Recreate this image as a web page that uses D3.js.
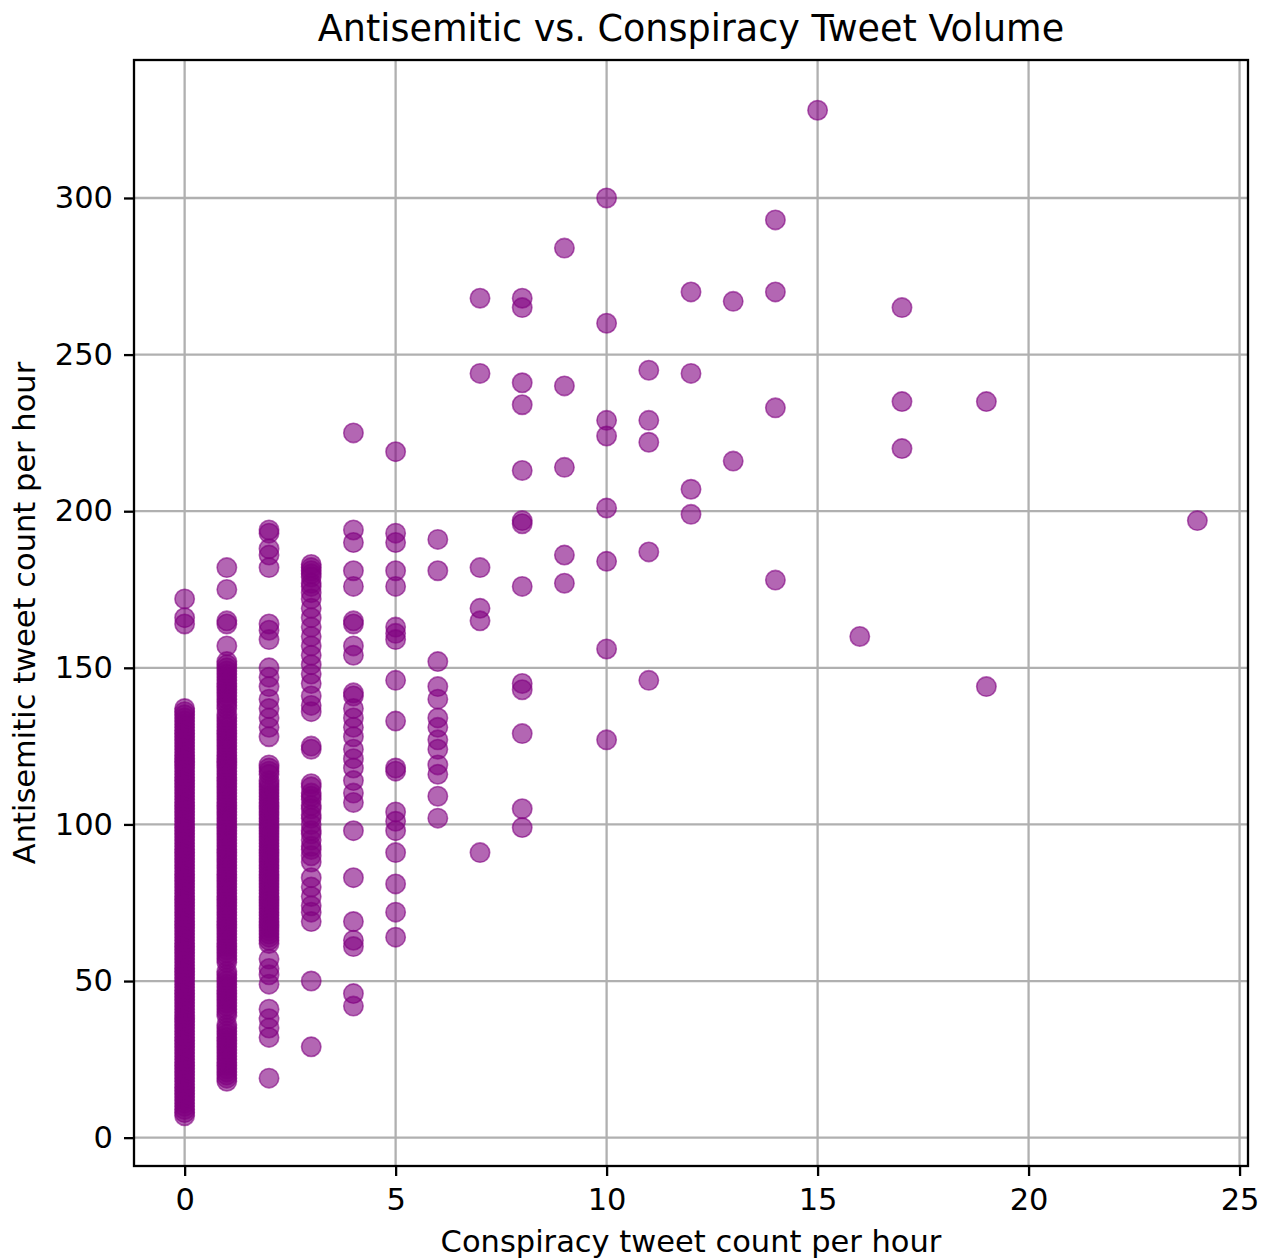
<!DOCTYPE html>
<html>
<head>
<meta charset="utf-8">
<script src="https://cdn.jsdelivr.net/npm/d3@7"></script>
<style>
  body { margin: 0; background: #fff; }
  text { font-family: "DejaVu Sans", sans-serif; fill: #000; }
</style>
</head>
<body>
<svg id="chart" width="1264" height="1258"></svg>
<script>
// Conspiracy tweets per hour (x) and the antisemitic tweet counts observed in those hours (y)
const conspiracyCounts = [0, 1, 2, 3, 4, 5, 6, 7, 8, 9, 10, 11, 12, 13, 14, 15, 16, 17, 19, 24];

const antisemiticCounts = [
  // 0 conspiracy tweets
  [172, 166, 164, 137, 136, 135, 134, 133, 132, 131, 130, 129, 128, 127, 126, 125, 124, 123, 122, 121,
   120, 119, 118, 117, 116, 115, 114, 113, 112, 111, 110, 109, 108, 107, 106, 105, 104, 103, 102, 101,
   100, 99, 98, 97, 96, 95, 94, 93, 92, 91, 90, 89, 88, 87, 86, 85, 84, 83, 82, 81, 80, 79, 78, 77, 76,
   75, 74, 73, 72, 71, 70, 69, 68, 67, 66, 65, 64, 63, 62, 61, 60, 59, 58, 57, 56, 55, 54, 53, 52, 51,
   50, 49, 48, 47, 46, 45, 44, 43, 42, 41, 40, 39, 38, 37, 36, 35, 34, 33, 32, 31, 30, 29, 28, 27, 26,
   25, 24, 23, 22, 21, 20, 19, 18, 17, 16, 15, 14, 13, 12, 11, 10, 9, 8, 7],
  // 1
  [182, 175, 165, 164, 157, 152, 151, 150, 149, 148, 147, 146, 145, 144, 143, 142, 141, 140, 139, 138,
   137, 135, 134, 133, 132, 131, 130, 129, 128, 127, 126, 125, 124, 123, 122, 121, 120, 119, 118, 117,
   116, 115, 114, 113, 112, 111, 110, 109, 108, 107, 106, 105, 104, 103, 102, 101, 100, 99, 98, 97, 96,
   95, 94, 93, 92, 91, 90, 89, 88, 87, 86, 85, 84, 83, 82, 81, 80, 79, 78, 77, 76, 75, 74, 73, 72, 71,
   70, 69, 68, 67, 66, 65, 64, 63, 62, 61, 60, 59, 58, 57, 56, 53, 52, 51, 50, 49, 48, 47, 46, 45, 44,
   43, 42, 41, 40, 39, 36, 35, 34, 33, 32, 31, 30, 29, 28, 27, 26, 25, 24, 23, 22, 21, 20, 19, 18],
  // 2
  [194, 193, 188, 186, 182, 164, 162, 159, 150, 147, 144, 140, 137, 134, 131, 128, 119, 118, 117, 116,
   114, 113, 112, 111, 110, 109, 108, 107, 106, 105, 104, 103, 102, 101, 100, 99, 98, 97, 96, 95, 94,
   93, 92, 91, 90, 89, 88, 87, 86, 85, 84, 83, 82, 81, 80, 79, 78, 77, 76, 75, 74, 73, 72, 71, 70, 69,
   68, 67, 66, 65, 64, 63, 62, 57, 54, 52, 49, 41, 38, 35, 32, 19],
  // 3
  [183, 182, 181, 180, 179, 177, 176, 174, 172, 169, 166, 163, 160, 157, 154, 151, 148, 145, 141, 138,
   136, 125, 124, 113, 112, 110, 109, 108, 106, 105, 103, 102, 100, 98, 97, 95, 93, 92, 90, 88, 83, 80,
   77, 74, 72, 69, 50, 29],
  // 4
  [225, 194, 190, 181, 176, 165, 164, 157, 154, 142, 141, 137, 134, 131, 128, 124, 121, 118, 114, 110,
   107, 98, 83, 69, 63, 61, 46, 42],
  // 5
  [219, 193, 190, 181, 176, 163, 161, 159, 146, 133, 118, 117, 104, 101, 98, 91, 81, 72, 64],
  // 6
  [191, 181, 152, 144, 140, 134, 131, 127, 124, 119, 116, 109, 102],
  // 7
  [268, 244, 182, 169, 165, 91],
  // 8
  [268, 265, 241, 234, 213, 197, 196, 176, 145, 143, 129, 105, 99],
  // 9
  [284, 240, 214, 186, 177],
  // 10
  [300, 260, 229, 224, 201, 184, 156, 127],
  // 11
  [245, 229, 222, 187, 146],
  // 12
  [270, 244, 207, 199],
  // 13
  [267, 216],
  // 14
  [293, 270, 233, 178],
  // 15
  [328],
  // 16
  [160],
  // 17
  [265, 235, 220],
  // 19
  [235, 144],
  // 24
  [197]
];

const xTicks = [0, 5, 10, 15, 20, 25];
const yTicks = [0, 50, 100, 150, 200, 250, 300];

const titleText = "Antisemitic vs. Conspiracy Tweet Volume";
const xLabelText = "Conspiracy tweet count per hour";
const yLabelText = "Antisemitic tweet count per hour";

// Plot frame
const plot = { left: 134, right: 1248, top: 60, bottom: 1166 };
const tickFont = 30.5;
const lineW = 2.3;

const points = conspiracyCounts.flatMap((c, i) =>
  antisemiticCounts[i].map(a => ({ c, a })));

// Pad the data extent by 5% on each side
const padded = ext => {
  const r = ext[1] - ext[0];
  return [ext[0] - 0.05 * r, ext[1] + 0.05 * r];
};

const x = d3.scaleLinear()
  .domain(padded(d3.extent(points, d => d.c)))
  .range([plot.left, plot.right]);
const y = d3.scaleLinear()
  .domain(padded(d3.extent(points, d => d.a)))
  .range([plot.bottom, plot.top]);

const svg = d3.select("#chart");

// Grid
const grid = svg.append("g").attr("stroke", "#b0b0b0").attr("stroke-width", lineW);
grid.selectAll("line.gx").data(xTicks).join("line")
  .attr("class", "gx")
  .attr("x1", d => x(d)).attr("x2", d => x(d))
  .attr("y1", plot.top).attr("y2", plot.bottom);
grid.selectAll("line.gy").data(yTicks).join("line")
  .attr("class", "gy")
  .attr("y1", d => y(d)).attr("y2", d => y(d))
  .attr("x1", plot.left).attr("x2", plot.right);

// Points
svg.append("g").selectAll("circle").data(points).join("circle")
  .attr("cx", d => x(d.c))
  .attr("cy", d => y(d.a))
  .attr("r", 9.7)
  .attr("fill", "purple")
  .attr("fill-opacity", 0.6)
  .attr("stroke", "purple")
  .attr("stroke-opacity", 0.6)
  .attr("stroke-width", 1.6);

// Axes
const xAxis = svg.append("g")
  .attr("transform", `translate(0,${plot.bottom})`)
  .call(d3.axisBottom(x).tickValues(xTicks).tickSize(10).tickPadding(12).tickFormat(d3.format("d")));
const yAxis = svg.append("g")
  .attr("transform", `translate(${plot.left},0)`)
  .call(d3.axisLeft(y).tickValues(yTicks).tickSize(10).tickPadding(11).tickFormat(d3.format("d")));

[xAxis, yAxis].forEach(g => {
  g.select(".domain").remove();
  g.selectAll(".tick line").attr("stroke", "#000").attr("stroke-width", lineW);
  g.selectAll(".tick text")
    .attr("font-size", tickFont)
    .attr("font-family", "DejaVu Sans, sans-serif")
    .attr("fill", "#000");
});

// Frame
svg.append("rect")
  .attr("x", plot.left).attr("y", plot.top)
  .attr("width", plot.right - plot.left).attr("height", plot.bottom - plot.top)
  .attr("fill", "none").attr("stroke", "#000").attr("stroke-width", lineW);

// Title and axis labels
svg.append("text")
  .attr("x", (plot.left + plot.right) / 2).attr("y", 41)
  .attr("text-anchor", "middle").attr("font-size", 36.5)
  .text(titleText);

svg.append("text")
  .attr("x", (plot.left + plot.right) / 2).attr("y", 1252)
  .attr("text-anchor", "middle").attr("font-size", tickFont)
  .text(xLabelText);

svg.append("text")
  .attr("transform", `translate(35,${(plot.top + plot.bottom) / 2}) rotate(-90)`)
  .attr("text-anchor", "middle").attr("font-size", tickFont)
  .text(yLabelText);
</script>
</body>
</html>
